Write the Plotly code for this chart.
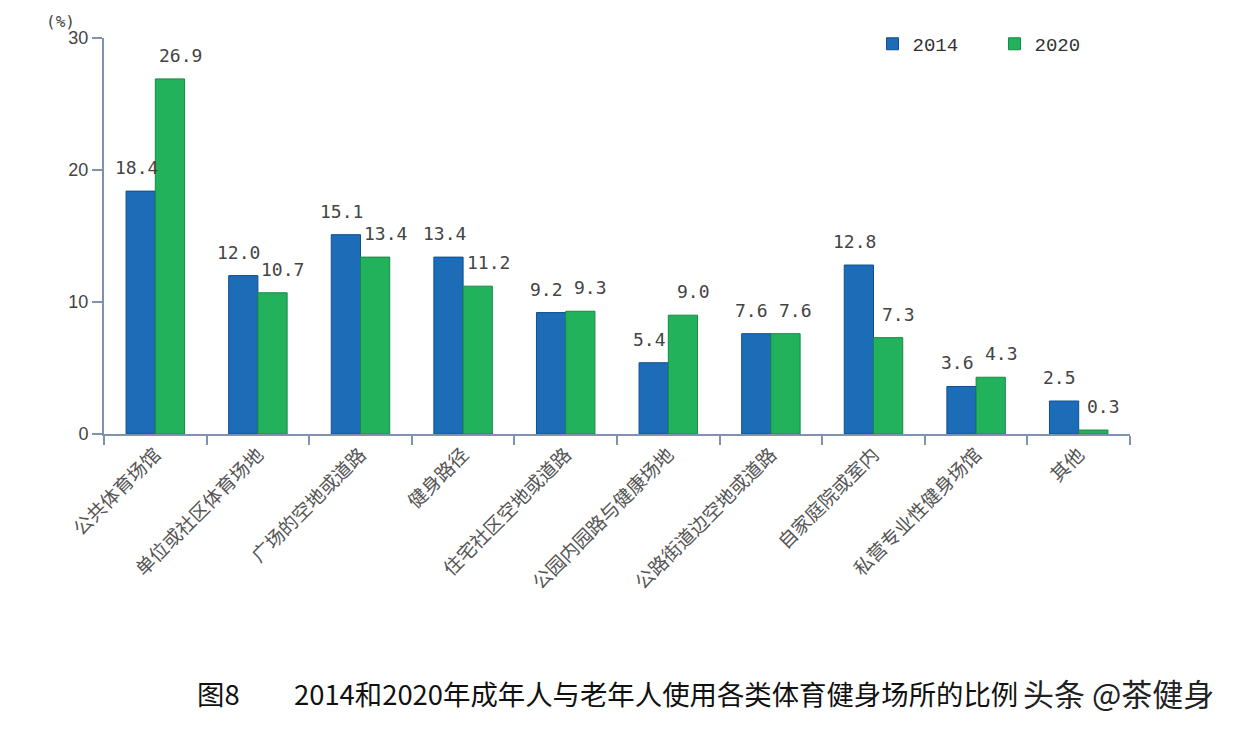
import plotly.graph_objects as go

categories = ["公共体育场馆", "单位或社区体育场地", "广场的空地或道路", "健身路径",
              "住宅社区空地或道路", "公园内园路与健康场地", "公路街道边空地或道路",
              "自家庭院或室内", "私营专业性健身场馆", "其他"]
values_2014 = [18.4, 12.0, 15.1, 13.4, 9.2, 5.4, 7.6, 12.8, 3.6, 2.5]
values_2020 = [26.9, 10.7, 13.4, 11.2, 9.3, 9.0, 7.6, 7.3, 4.3, 0.3]
y_ticks = [0, 10, 20, 30]

axis_color = "#7f93b0"
lbl_font = dict(family="DejaVu Sans Mono, Liberation Mono, monospace", size=18, color="#444444")

fig = go.Figure()
fig.add_trace(go.Bar(
    name="2014", x=categories, y=values_2014,
    marker=dict(color="#1c6cb8", line=dict(color="#0f4f8f", width=1)),
))
fig.add_trace(go.Bar(
    name="2020", x=categories, y=values_2020,
    marker=dict(color="#22b25c", line=dict(color="#168a43", width=1)),
))

# value labels above each bar, offset sideways like the original
for cat, v in zip(categories, values_2014):
    fig.add_annotation(x=cat, y=v, text=f"{v:.1f}", showarrow=False,
                       xanchor="center", yanchor="bottom", xshift=-19, yshift=11,
                       font=lbl_font)
for cat, v in zip(categories, values_2020):
    fig.add_annotation(x=cat, y=v, text=f"{v:.1f}", showarrow=False,
                       xanchor="center", yanchor="bottom", xshift=25, yshift=11,
                       font=lbl_font)

fig.update_layout(
    width=1234, height=730,
    margin=dict(l=96, r=112, t=30, b=304),
    paper_bgcolor="white", plot_bgcolor="white",
    barmode="group", bargap=0.43, bargroupgap=0,
    showlegend=True,
    legend=dict(orientation="h", x=0.749, y=0.985, xanchor="left", yanchor="middle",
                font=dict(family="Liberation Mono, DejaVu Sans Mono, monospace", size=19, color="#333333"),
                itemwidth=30, entrywidth=77, entrywidthmode="pixels",
                traceorder="normal", bgcolor="rgba(0,0,0,0)"),
    xaxis=dict(
        range=[-0.5, 9.5], tickson="boundaries", ticks="outside", ticklen=9,
        tickcolor=axis_color, tickwidth=2,
        showline=True, linecolor=axis_color, linewidth=2,
        tickangle=-45, showgrid=False,
        tickfont=dict(family="Noto Sans CJK SC", size=19, color="#555555"),
    ),
    yaxis=dict(
        range=[0, 30], tickvals=y_ticks, ticks="outside", ticklen=10,
        tickcolor=axis_color, tickwidth=2,
        showline=True, linecolor=axis_color, linewidth=2,
        showgrid=False, zeroline=False,
        tickfont=dict(family="Liberation Sans, Arial", size=18, color="#444444"),
    ),
)

fig.add_annotation(text="(%)", xref="paper", yref="paper", x=-0.026, y=1.042,
                   xanchor="right", yanchor="middle", showarrow=False,
                   font=dict(family="DejaVu Sans Mono", size=16, color="#444444"))
title_font = dict(family="Noto Sans CJK SC", size=27.4, color="#111111")
fig.add_annotation(text="图8", xref="paper", yref="paper", x=0.0887, y=-0.654,
                   xanchor="left", yanchor="middle", showarrow=False, font=title_font)
fig.add_annotation(text="2014和2020年成年人与老年人使用各类体育健身场所的比例",
                   xref="paper", yref="paper", x=0.1832, y=-0.654,
                   xanchor="left", yanchor="middle", showarrow=False, font=title_font)
fig.add_annotation(text="头条 @茶健身", xref="paper", yref="paper", x=1.0838, y=-0.654,
                   xanchor="right", yanchor="middle", showarrow=False,
                   font=dict(family="Noto Sans CJK SC", size=31, color="#222222"))

fig.write_html("out.html")
